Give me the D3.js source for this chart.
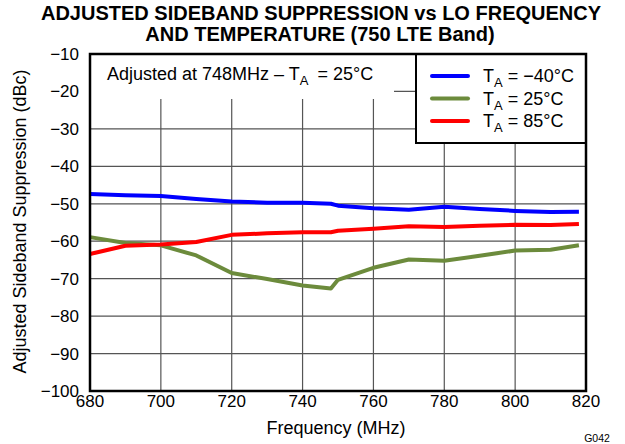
<!DOCTYPE html>
<html>
<head>
<meta charset="utf-8">
<script src="https://cdn.jsdelivr.net/npm/d3@7"></script>
<style>
  body { margin:0; background:#fff; }
  text { font-family: "Liberation Sans", Arial, sans-serif; fill:#000; }
</style>
</head>
<body>
<div id="chart"></div>
<script>
// data
var freqs   = [680, 690, 700, 710, 720, 730, 740, 748, 750, 760, 770, 780, 790, 800, 810, 818];
var tM40    = [-47.4, -47.7, -47.9, -48.7, -49.4, -49.7, -49.7, -50.0, -50.5, -51.2, -51.6, -50.8, -51.4, -51.9, -52.2, -52.1];
var t25     = [-58.9, -60.5, -61.1, -63.8, -68.5, -70.1, -71.8, -72.6, -70.3, -67.1, -64.9, -65.2, -63.9, -62.5, -62.3, -61.1];
var t85     = [-63.4, -61.2, -60.9, -60.2, -58.3, -57.9, -57.6, -57.6, -57.2, -56.7, -56.0, -56.2, -55.9, -55.6, -55.7, -55.4];
var xTicks  = [680, 700, 720, 740, 760, 780, 800, 820];
var yTicks  = [-10, -20, -30, -40, -50, -60, -70, -80, -90, -100];
var series  = [
  {name:"\u221240\u00B0C", vals:tM40, color:"#0000ff"},
  {name:"25\u00B0C",       vals:t25,  color:"#6c8b3c"},
  {name:"85\u00B0C",       vals:t85,  color:"#ff0000"}
];

var W = 625, H = 444;
var m = {top:54, right:39, bottom:53, left:90};
var w = W - m.left - m.right, h = H - m.top - m.bottom;

var svg = d3.select("#chart").append("svg").attr("width", W).attr("height", H);

// title
svg.append("text").attr("x", 321).attr("y", 20).attr("text-anchor","middle")
  .style("font-size","20px").style("font-weight","bold").text("ADJUSTED SIDEBAND SUPPRESSION vs LO FREQUENCY");
svg.append("text").attr("x", 320).attr("y", 41).attr("text-anchor","middle")
  .style("font-size","20px").style("font-weight","bold").text("AND TEMPERATURE (750 LTE Band)");

var g = svg.append("g").attr("transform","translate("+m.left+","+m.top+")");

var x = d3.scaleLinear().domain([680, 820]).range([0, w]);
var y = d3.scaleLinear().domain([-100, -10]).range([h, 0]);

// grid
g.selectAll(".vgrid").data(xTicks.slice(1, -1)).enter().append("line")
  .attr("x1", function(d){return x(d);}).attr("x2", function(d){return x(d);})
  .attr("y1", 0).attr("y2", h).attr("stroke","#555").attr("stroke-width",1.2);
g.selectAll(".hgrid").data(yTicks.slice(1, -1)).enter().append("line")
  .attr("x1", 0).attr("x2", w)
  .attr("y1", function(d){return y(d);}).attr("y2", function(d){return y(d);})
  .attr("stroke","#555").attr("stroke-width",1.2);

// series
var line = d3.line().x(function(d){return x(d[0]);}).y(function(d){return y(d[1]);});
series.forEach(function(s){
  g.append("path").datum(freqs.map(function(f,i){return [f, s.vals[i]];}))
    .attr("fill","none").attr("stroke", s.color).attr("stroke-width",4)
    .attr("stroke-linejoin","round").attr("d", line);
});

// annotation box (white, hides grid)
g.append("rect").attr("x",0).attr("y",0).attr("width", 304).attr("height", 45)
  .attr("fill","#fff");
var ann = g.append("text").attr("x",17).attr("y",26).style("font-size","18px");
ann.append("tspan").text("Adjusted at 748MHz \u2013 T");
ann.append("tspan").attr("dy",5).style("font-size","13px").text("A");
ann.append("tspan").attr("dy",-5).text("\u2002= 25\u00B0C");

// legend
var lgX = 326;
var lg = g.append("g").attr("transform","translate("+lgX+",0)");
lg.append("rect").attr("x",0).attr("y",0).attr("width", w - lgX).attr("height", 89)
  .attr("fill","#fff").attr("stroke","#000").attr("stroke-width",2);
series.forEach(function(s, i){
  var yy = 22 + i*22.5;
  lg.append("line").attr("x1",16).attr("x2",52).attr("y1",yy).attr("y2",yy)
    .attr("stroke", s.color).attr("stroke-width",4).attr("stroke-linecap","round");
  var t = lg.append("text").attr("x",67).attr("y",yy+6).style("font-size","18px");
  t.append("tspan").text("T");
  t.append("tspan").attr("dy",5).style("font-size","13px").text("A");
  t.append("tspan").attr("dy",-5).text(" = " + s.name);
});

// frame
g.append("rect").attr("x",0).attr("y",0).attr("width",w).attr("height",h)
  .attr("fill","none").attr("stroke","#000").attr("stroke-width",2.5);

// tick labels
g.selectAll(".ylab").data(yTicks).enter().append("text")
  .attr("x",-11).attr("y", function(d){return y(d)+6;}).attr("text-anchor","end")
  .style("font-size","17px").text(function(d){return String(d).replace("-","\u2212");});
g.selectAll(".xlab").data(xTicks).enter().append("text")
  .attr("x", function(d){return x(d);}).attr("y", h+16).attr("text-anchor","middle")
  .style("font-size","17px").text(function(d){return d;});

// axis titles
svg.append("text").attr("x", 336).attr("y", 434).attr("text-anchor","middle")
  .style("font-size","18px").text("Frequency (MHz)");
svg.append("text").attr("transform","translate(26,221.5) rotate(-90)")
  .attr("text-anchor","middle").style("font-size","18px").text("Adjusted Sideband Suppression (dBc)");
svg.append("text").attr("x", 597).attr("y", 442).attr("text-anchor","middle")
  .style("font-size","10.5px").text("G042");
</script>
</body>
</html>
